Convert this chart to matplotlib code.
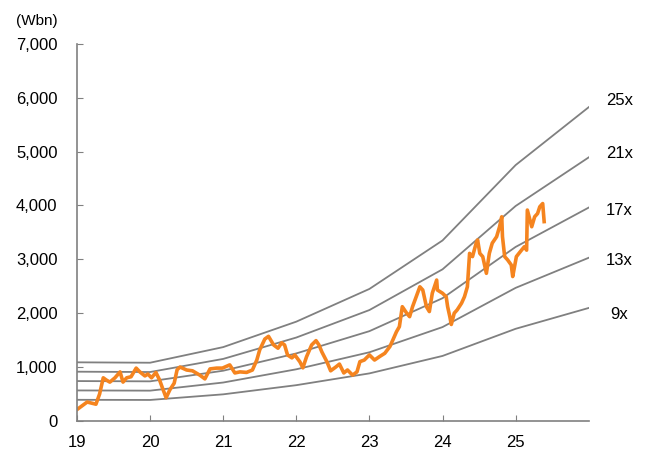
import matplotlib
matplotlib.use("Agg")
import matplotlib.pyplot as plt

plt.rcParams['font.family'] = ['Liberation Sans', 'DejaVu Sans']

# Earnings per share path used for the P/E bands (Wbn per 1x multiple)
eps_years = [19, 20, 21, 22, 23, 24, 25, 26]
eps_values = [43.5, 43.2, 54.8, 73.7, 98, 134, 190, 233]

multiples = [25, 21, 17, 13, 9]
band_labels = ["25x", "21x", "17x", "13x", "9x"]
label_y = [5955, 4972, 3915, 2987, 1967]

# Market cap (Wbn)
mcap_years = [19.01, 19.07, 19.14, 19.20, 19.26, 19.31, 19.36, 19.40, 19.45, 19.52,
              19.59, 19.63, 19.68, 19.74, 19.81, 19.86, 19.93, 19.97, 20.02, 20.08,
              20.13, 20.17, 20.22, 20.27, 20.33, 20.37, 20.41, 20.50, 20.58, 20.68,
              20.75, 20.82, 20.91, 20.99, 21.09, 21.16, 21.23, 21.32, 21.40, 21.46,
              21.50, 21.57, 21.62, 21.69, 21.75, 21.80, 21.84, 21.88, 21.94, 21.98,
              22.05, 22.09, 22.14, 22.21, 22.27, 22.31, 22.35, 22.42, 22.47, 22.54,
              22.59, 22.65, 22.70, 22.77, 22.83, 22.87, 22.93, 23.00, 23.07, 23.14,
              23.21, 23.28, 23.32, 23.37, 23.41, 23.45, 23.51, 23.55, 23.59, 23.64,
              23.69, 23.73, 23.78, 23.82, 23.86, 23.92, 23.93, 24.00, 24.05, 24.07,
              24.10, 24.12, 24.16, 24.20, 24.26, 24.30, 24.34, 24.37, 24.41, 24.46,
              24.48, 24.51, 24.55, 24.60, 24.64, 24.68, 24.74, 24.78, 24.81, 24.82,
              24.85, 24.89, 24.94, 24.96, 25.01, 25.08, 25.12, 25.15, 25.16, 25.22,
              25.26, 25.30, 25.33, 25.37, 25.39]
mcap_values = [220, 280, 350, 330, 310, 500, 800, 760, 720, 800,
               910, 720, 800, 820, 980, 910, 835, 870, 800, 900,
               760, 610, 430, 575, 700, 950, 1000, 945, 930, 850,
               780, 965, 980, 980, 1040, 890, 910, 900, 945, 1130,
               1320, 1520, 1570, 1410, 1350, 1450, 1410, 1225, 1170, 1225,
               1095, 985, 1190, 1410, 1490, 1410, 1280, 1095, 930, 1000,
               1055, 890, 945, 850, 910, 1100, 1130, 1225, 1130, 1195,
               1255, 1380, 1500, 1655, 1750, 2120, 2000, 1935, 2120, 2305,
               2490, 2430, 2120, 2030, 2370, 2615, 2430, 2370, 2305, 2120,
               1935, 1790, 2000, 2060, 2185, 2305, 2490, 3110, 3050, 3300,
               3360, 3110, 3050, 2740, 3110, 3300, 3420, 3605, 3790, 3420,
               3050, 2990, 2895, 2680, 3050, 3170, 3235, 3170, 3915, 3605,
               3790, 3850, 3975, 4035, 3700]

x_ticks = [19, 20, 21, 22, 23, 24, 25]
y_ticks = [0, 1000, 2000, 3000, 4000, 5000, 6000, 7000]

grey = '#808080'
orange = '#F5841F'

fig = plt.figure(figsize=(6.52, 4.57), dpi=100)
ax = fig.add_axes([0.118, 0.079, 0.785, 0.825])

for m, lab, ly in zip(multiples, band_labels, label_y):
    ax.plot(eps_years, [m * e for e in eps_values], color=grey, lw=1.3)
    ax.text(26.42, ly, lab, ha='center', va='center', fontsize=12, clip_on=False)

ax.plot(mcap_years, mcap_values, color=orange, lw=2.6)

ax.set_xlim(19, 26)
ax.set_ylim(0, 7000)
ax.set_xticks(x_ticks)
ax.set_xticklabels([str(t) for t in x_ticks])
ax.set_yticks(y_ticks)
ax.set_yticklabels([f"{t:,}" for t in y_ticks])
ax.tick_params(direction='in', length=4, color=grey, labelsize=12)
ax.tick_params(axis='y', pad=14)
ax.tick_params(axis='x', pad=10)

for side in ['top', 'right']:
    ax.spines[side].set_visible(False)
for side in ['left', 'bottom']:
    ax.spines[side].set_color(grey)
    ax.spines[side].set_linewidth(1.2)

fig.text(0.024, 0.955, "(Wbn)", fontsize=11, ha='left', va='center')

fig.savefig("out.png", dpi=100)
